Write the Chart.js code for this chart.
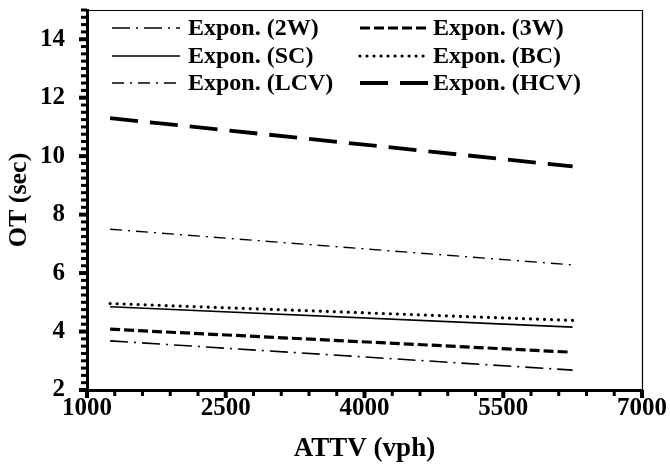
<!DOCTYPE html>
<html>
<head>
<meta charset="utf-8">
<script src="https://cdn.jsdelivr.net/npm/chart.js@4.4.1/dist/chart.umd.min.js"></script>
<style>
html,body{margin:0;padding:0;background:#fff;}
#wrap{width:670px;height:476px;position:relative;}
</style>
</head>
<body>
<div id="wrap"><canvas id="c" width="670" height="476"></canvas></div>
<script>
// ---- data ----
const seriesNames = ['Expon. (2W)', 'Expon. (3W)', 'Expon. (SC)', 'Expon. (BC)', 'Expon. (LCV)', 'Expon. (HCV)'];
const xRange = [1250, 6250];
const x3W = [1250, 6200];
const y2W = [3.68, 2.68];
const y3W = [4.08, 3.30];
const ySC = [4.85, 4.15];
const yBC = [4.96, 4.38];
const yLCV = [7.50, 6.28];
const yHCV = [11.30, 9.65];
const xTicks = [1000, 2500, 4000, 5500, 7000];
const yTicks = [2, 4, 6, 8, 10, 12, 14];
const xTitle = 'ATTV (vph)';
const yTitle = 'OT (sec)';

const FONT = "'Liberation Serif', 'Times New Roman', serif";

function pts(xs, ys){ return xs.map((x,i)=>({x:x, y:ys[i]})); }

const styles = [
  {w:1.6, dash:[18,6,2,6], cap:'butt'},
  {w:3.2, dash:[10,4], cap:'butt'},
  {w:1.6, dash:[], cap:'butt'},
  {w:3.2, dash:[0.01,7], cap:'round'},
  {w:1.4, dash:[12,6,2,6], cap:'butt'},
  {w:3.8, dash:[28,12], cap:'butt'}
];
const dataSets = [pts(xRange,y2W), pts(x3W,y3W), pts(xRange,ySC), pts(xRange,yBC), pts(xRange,yLCV), pts(xRange,yHCV)];

const datasets = seriesNames.map((n,i)=>({
  label:n, data:dataSets[i], borderColor:'#000', backgroundColor:'#000',
  borderWidth:styles[i].w, borderDash:styles[i].dash, borderCapStyle:styles[i].cap,
  pointRadius:0, fill:false, tension:0
}));

const decor = {
  id:'decor',
  afterDraw(chart){
    const ctx = chart.ctx, ca = chart.chartArea;
    const xs = chart.scales.x, ys = chart.scales.y;
    ctx.save();
    ctx.strokeStyle='#000'; ctx.lineWidth=1.2;
    ctx.beginPath();
    ctx.moveTo(ca.left, ca.top+0.5); ctx.lineTo(ca.right+0.5, ca.top+0.5); ctx.lineTo(ca.right+0.5, ca.bottom);
    ctx.stroke();
    ctx.lineCap='butt';
    for(let v=2; v<=15.001; v+=0.25){
      const p = ys.getPixelForValue(v);
      const major = yTicks.includes(Math.round(v*100)/100);
      ctx.lineWidth = major?4:3;
      ctx.beginPath();
      ctx.moveTo(ca.left, p); ctx.lineTo(ca.left-(major?8:6), p); ctx.stroke();
    }
    for(let v=1000; v<=7000.001; v+=300){
      const p = xs.getPixelForValue(v);
      const major = xTicks.includes(Math.round(v));
      ctx.lineWidth = major?4:3;
      ctx.beginPath();
      ctx.moveTo(p, ca.bottom); ctx.lineTo(p, ca.bottom+(major?8:6)); ctx.stroke();
    }
    // legend
    const cols=[{s:ca.left+25,e:ca.left+93,t:ca.left+101},{s:ca.left+273,e:ca.left+343,t:ca.left+346}];
    const rows=[ca.top+18, ca.top+46, ca.top+73];
    ctx.font = "bold 24px "+FONT;
    ctx.fillStyle='#000'; ctx.textBaseline='middle'; ctx.textAlign='left';
    seriesNames.forEach((n,i)=>{
      const c = cols[i%2], r = rows[Math.floor(i/2)];
      const st = styles[i];
      ctx.lineWidth = st.w; ctx.setLineDash(st.dash); ctx.lineCap = st.cap;
      ctx.beginPath(); ctx.moveTo(c.s, r); ctx.lineTo(c.e, r); ctx.stroke();
      ctx.setLineDash([]);
      ctx.fillText(n, c.t, r+1);
    });
    ctx.restore();
  }
};

new Chart(document.getElementById('c'), {
  type:'line',
  data:{datasets:datasets},
  options:{
    responsive:false, animation:false, devicePixelRatio:1,
    layout:{padding:{top:10, right:28, left:0, bottom:0}},
    plugins:{legend:{display:false}, tooltip:{enabled:false}},
    scales:{
      x:{type:'linear', min:1000, max:7000,
        afterBuildTicks:(s)=>{ s.ticks = xTicks.map(v=>({value:v})); },
        afterFit:(s)=>{ s.height = 86; s.paddingLeft = 0; s.paddingRight = 0; },
        grid:{display:false, drawTicks:false},
        border:{display:true, color:'#000', width:3},
        ticks:{color:'#000', font:{family:FONT, size:25, weight:'bold'}, padding:4, maxRotation:0, autoSkip:false,
          callback:(v)=>String(v)},
        title:{display:true, text:xTitle, color:'#000', font:{family:FONT, size:27, weight:'bold'}, padding:{top:0, bottom:11}}
      },
      y:{min:2, max:15,
        afterBuildTicks:(s)=>{ s.ticks = yTicks.map(v=>({value:v})); },
        afterFit:(s)=>{ s.width = 87; s.paddingTop = 0; s.paddingBottom = 0; },
        grid:{display:false, drawTicks:false},
        border:{display:true, color:'#000', width:3},
        ticks:{color:'#000', font:{family:FONT, size:25, weight:'bold'}, padding:22, autoSkip:false,
          callback:(v)=>String(v)},
        title:{display:true, text:yTitle, color:'#000', font:{family:FONT, size:26, weight:'bold'}, padding:{top:4, bottom:0}}
      }
    }
  },
  plugins:[decor]
});
</script>
</body>
</html>
